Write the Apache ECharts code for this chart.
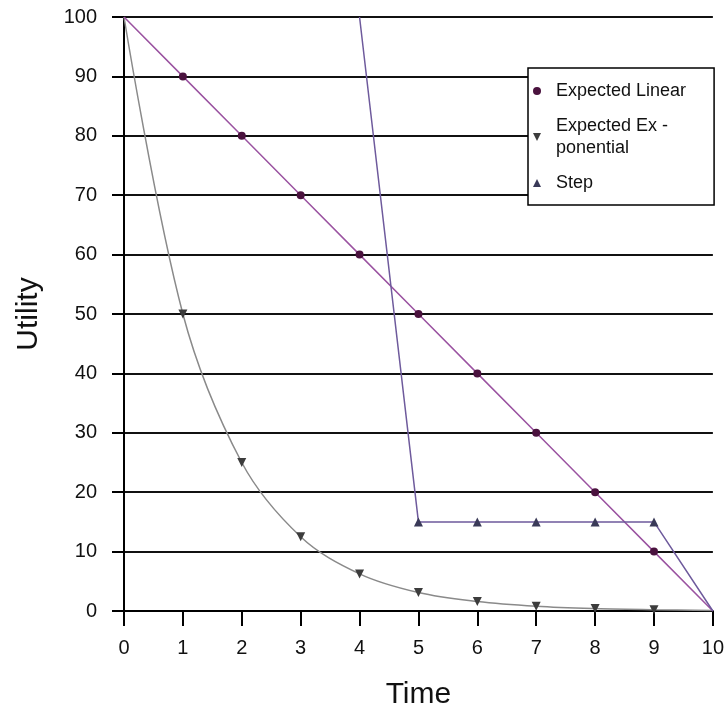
<!DOCTYPE html>
<html>
<head>
<meta charset="utf-8">
<script src="https://cdn.jsdelivr.net/npm/echarts@6/dist/echarts.min.js"></script>
<style>html,body{margin:0;padding:0;background:#fff;overflow:hidden;}#c{width:727px;height:715px;}</style>
</head>
<body>
<div id="c"></div>
<script>
var times = [0, 1, 2, 3, 4, 5, 6, 7, 8, 9, 10];
var linearVals = [100, 90, 80, 70, 60, 50, 40, 30, 20, 10, 0];
var expVals = [100, 50, 25, 12.5, 6.25, 3.1, 1.6, 0.8, 0.4, 0.2, 0.1];
var stepTimes = [4, 5, 6, 7, 8, 9, 10];
var stepVals = [100, 15, 15, 15, 15, 15, 0];
var yTicks = [0, 10, 20, 30, 40, 50, 60, 70, 80, 90, 100];
var seriesNames = ['Expected Linear', 'Expected Ex -\nponential', 'Step'];

function build(xs, ys, hideFirst) {
  return xs.map(function (x, i) {
    var item = { value: [x, ys[i]] };
    if ((hideFirst && i === 0) || x === 0 || x === 10) item.symbol = 'none';
    return item;
  });
}

var font = 'Liberation Sans, Arial, sans-serif';
var chart = echarts.init(document.getElementById('c'));
chart.setOption({
  animation: false,
  backgroundColor: '#fff',
  grid: { left: 124, right: 9, top: 17, bottom: 102, containLabel: false },
  xAxis: {
    type: 'value', min: 0, max: 10, interval: 1,
    name: 'Time', nameLocation: 'middle', nameGap: 69,
    nameTextStyle: { fontSize: 30, color: '#111', fontFamily: font },
    axisLine: { lineStyle: { color: '#000', width: 2 } },
    axisTick: { show: true, length: 15, lineStyle: { color: '#000', width: 2 } },
    axisLabel: { fontSize: 20, color: '#111', margin: 27, fontFamily: font },
    splitLine: { show: false }
  },
  yAxis: {
    type: 'value', min: yTicks[0], max: yTicks[yTicks.length - 1], interval: 10,
    name: 'Utility', nameLocation: 'middle', nameGap: 80,
    nameTextStyle: { fontSize: 30, color: '#111', fontFamily: font },
    axisLine: { show: true, lineStyle: { color: '#000', width: 2 } },
    axisTick: { show: true, inside: false, length: 12, lineStyle: { color: '#000', width: 2 } },
    axisLabel: { fontSize: 20, color: '#111', margin: 27, fontFamily: font },
    splitLine: { show: true, lineStyle: { color: '#111', width: 2 } }
  },
  legend: {
    orient: 'vertical', left: 528, top: 68,
    backgroundColor: '#fff', borderColor: '#000', borderWidth: 1.5,
    padding: [12, 28, 11, 5], itemGap: 13, itemWidth: 8, itemHeight: 8,
    textStyle: { fontSize: 18, color: '#111', fontFamily: font, lineHeight: 22, padding: [0, 0, 0, 10] },
    data: [
      { name: seriesNames[0], icon: 'circle' },
      { name: seriesNames[1], icon: 'path://M0,0 L10,0 L5,10 Z' },
      { name: seriesNames[2], icon: 'triangle' }
    ]
  },
  series: [
    {
      name: seriesNames[0], type: 'line',
      data: build(times, linearVals),
      symbol: 'circle', symbolSize: 8,
      lineStyle: { color: '#9a52a0', width: 1.5 },
      itemStyle: { color: '#4a123e' },
      z: 4
    },
    {
      name: seriesNames[1], type: 'line',
      data: build(times, expVals),
      smooth: 0.35,
      symbol: 'triangle', symbolRotate: 180, symbolSize: 9,
      lineStyle: { color: '#8a8a8a', width: 1.5 },
      itemStyle: { color: '#3c3c3c' },
      z: 3
    },
    {
      name: seriesNames[2], type: 'line',
      data: build(stepTimes, stepVals, true),
      symbol: 'triangle', symbolSize: 9,
      lineStyle: { color: '#6e5a9c', width: 1.5 },
      itemStyle: { color: '#3a3a58' },
      z: 5
    }
  ]
});
</script>
</body>
</html>
